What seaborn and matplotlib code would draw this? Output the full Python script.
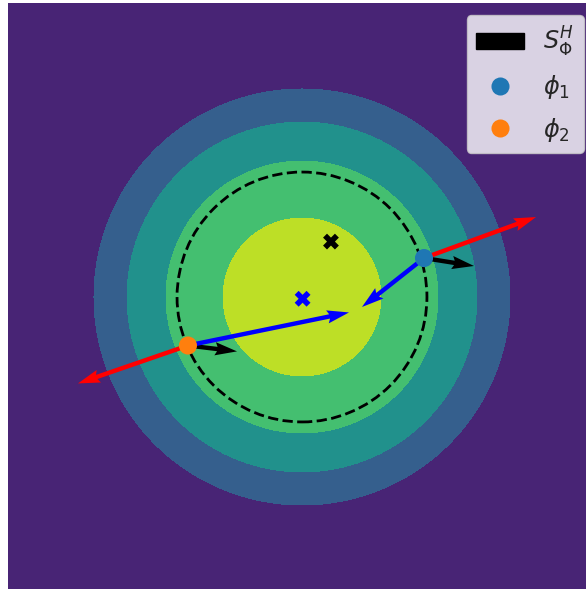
import numpy as np
import matplotlib
matplotlib.use("Agg")
import matplotlib.pyplot as plt
from matplotlib.patches import Patch, Circle
from matplotlib.lines import Line2D
import seaborn as sns

sns.set_style("white")

# Band boundaries of the objective (radii of the level sets), from inside out
band_radii = [0.537, 0.925, 1.19, 1.415]
band_shades = [0.1, 0.3, 0.5, 0.7, 0.9]   # viridis positions, outer -> inner

# Boundary of the feasible set S_Phi^H
set_radius = 0.85

# Two boundary points
phi_x = [0.830, -0.776]
phi_y = [0.265, -0.330]
phi_labels = [r"$\phi_1$", r"$\phi_2$"]
phi_colors = ["#1f77b4", "#ff7f0e"]

# Outward normals (red), constant field (black), steps towards interior (blue)
normal_u = [0.762, -0.748]
normal_v = [0.279, -0.258]
field_u = [0.340, 0.334]
field_v = [-0.054, -0.040]
step_u = [-0.422, 1.096]
step_v = [-0.333, 0.225]

# Optimum of the objective (blue) and a second reference point (black)
opt_point = (0.004, -0.012)
ref_point = (0.197, 0.377)

fig = plt.figure(figsize=(5.86, 5.89), dpi=100)
ax = fig.add_axes([8 / 586, -2 / 589, 588 / 586, 588 / 589])

g = np.linspace(-2, 2, 500)
X, Y = np.meshgrid(g, g)
Z = -(X ** 2 + Y ** 2)
levels = [-10.0] + [-r ** 2 for r in band_radii[::-1]] + [0.5]
cmap = sns.color_palette("viridis", as_cmap=True)
ax.contourf(X, Y, Z, levels=levels, colors=[cmap(v) for v in band_shades])

ax.add_patch(Circle((0, 0), set_radius, fill=False, ls="--", lw=2, color="black"))

qkw = dict(angles="xy", scale_units="xy", scale=1, width=0.0075, zorder=3)
ax.quiver(phi_x, phi_y, normal_u, normal_v, color="red", **qkw)
ax.quiver(phi_x, phi_y, field_u, field_v, color="black", **qkw)
ax.quiver(phi_x, phi_y, step_u, step_v, color="blue", **qkw)

for x, y, c in zip(phi_x, phi_y, phi_colors):
    sns.scatterplot(x=[x], y=[y], ax=ax, s=170, color=c, edgecolor="none", zorder=5)

sns.scatterplot(x=[opt_point[0]], y=[opt_point[1]], ax=ax, marker="X", s=130,
                color="blue", edgecolor="none", zorder=5)
sns.scatterplot(x=[ref_point[0]], y=[ref_point[1]], ax=ax, marker="X", s=130,
                color="black", edgecolor="none", zorder=5)

ax.set_xlim(-2, 2)
ax.set_ylim(-2, 2)
ax.axis("off")

handles = [Patch(color="black", label=r"$S_\Phi^H$")]
for lab, c in zip(phi_labels, phi_colors):
    handles.append(Line2D([], [], ls="none", marker="o", markersize=13,
                          markerfacecolor=c, markeredgecolor="none", label=lab))
ax.legend(handles=handles, loc="upper right", fontsize="xx-large", labelspacing=0.6)

fig.savefig("out.png", dpi=100)
